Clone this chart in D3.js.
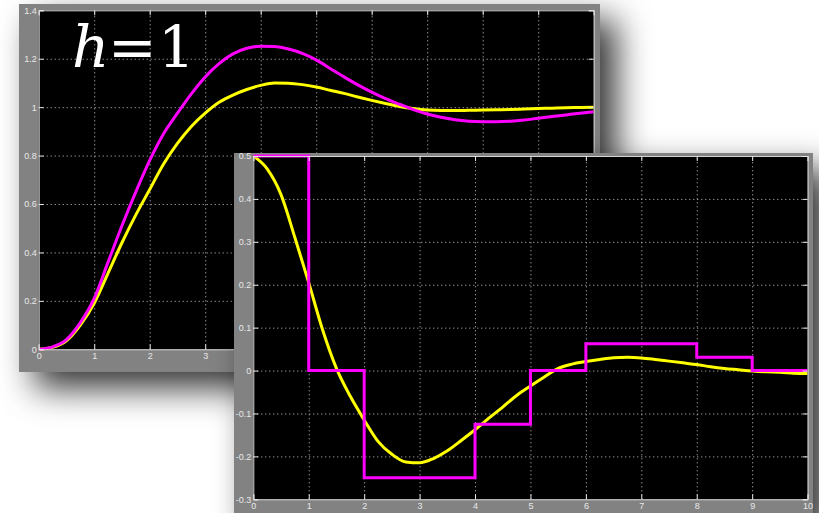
<!DOCTYPE html>
<html>
<head>
<meta charset="utf-8">
<script src="https://cdn.jsdelivr.net/npm/d3@7"></script>
<style>
  html, body { margin: 0; padding: 0; background: #fff; }
  svg { display: block; }
  .lbl text { fill: #e8e8e8; font-family: 'Liberation Sans', Arial, sans-serif; font-size: 9px; }
  .hlabel { font-family: 'DejaVu Serif', 'Liberation Serif', serif; font-size: 58px; fill: #fff; }
</style>
</head>
<body>
<svg id="chart" width="819" height="513"></svg>
<script>
// sample times shared by the continuous curves
const times = [0, 0.25, 0.5, 0.75, 1, 1.25, 1.5, 1.75, 2, 2.25, 2.5, 2.75, 3, 3.25, 3.5, 3.75,
  4, 4.25, 4.5, 4.75, 5, 5.25, 5.5, 5.75, 6, 6.25, 6.5, 6.75, 7, 7.25, 7.5, 7.75,
  8, 8.25, 8.5, 8.75, 9, 9.25, 9.5, 9.75, 10]

// back scope: step responses
const backYellow = [0, 0.008, 0.035, 0.1, 0.19, 0.315, 0.44, 0.555, 0.66, 0.765, 0.85, 0.92, 0.975, 1.02, 1.05, 1.073,
  1.09, 1.1, 1.099, 1.093, 1.083, 1.07, 1.057, 1.042, 1.028, 1.015, 1.003, 0.994, 0.988, 0.986, 0.986, 0.987,
  0.988, 0.989, 0.99, 0.992, 0.994, 0.996, 0.998, 0.999, 1.0]
const backMagenta = [0, 0.01, 0.04, 0.11, 0.21, 0.36, 0.51, 0.65, 0.78, 0.89, 0.975, 1.055, 1.125, 1.18, 1.22, 1.243,
  1.252, 1.25, 1.24, 1.222, 1.195, 1.16, 1.125, 1.092, 1.062, 1.035, 1.012, 0.99, 0.972, 0.958, 0.948, 0.942,
  0.94, 0.94, 0.942, 0.947, 0.954, 0.961, 0.968, 0.975, 0.981]

// front scope: control signal, continuous and sampled (h = 1)
const frontYellow = [0.5, 0.47, 0.41, 0.31, 0.205, 0.095, 0.005, -0.06, -0.115, -0.165, -0.195, -0.213, -0.215, -0.205, -0.187, -0.163,
  -0.138, -0.111, -0.085, -0.058, -0.036, -0.015, 0.005, 0.015, 0.021, 0.026, 0.03, 0.031, 0.0295, 0.026, 0.022, 0.018,
  0.014, 0.009, 0.005, 0.002, -0.001, -0.003, -0.004, -0.006, -0.007]
const sampleTimes = [0, 1, 2, 3, 4, 5, 6, 7, 8, 9, 10]
const frontMagenta = [0.5, 0, -0.25, -0.25, -0.125, 0, 0.0625, 0.0625, 0.03125, 0, 0]

const xTicks = [0, 1, 2, 3, 4, 5, 6, 7, 8, 9, 10]
const backYTicks = [0, 0.2, 0.4, 0.6, 0.8, 1, 1.2, 1.4]
const frontYTicks = [-0.3, -0.2, -0.1, 0, 0.1, 0.2, 0.3, 0.4, 0.5]

const svg = d3.select('#chart')

const defs = svg.append('defs')
const shadow = defs.append('filter').attr('id', 'shadow')
  .attr('x', '-25%').attr('y', '-25%').attr('width', '160%').attr('height', '160%')
shadow.append('feDropShadow')
  .attr('dx', 16).attr('dy', 16).attr('stdDeviation', 17)
  .attr('flood-color', '#000').attr('flood-opacity', 0.8)

function drawScope (id, frame, plot, yDomain, yTicks, series) {
  const g = svg.append('g')

  g.append('rect')
    .attr('x', frame.x).attr('y', frame.y)
    .attr('width', frame.w).attr('height', frame.h)
    .attr('fill', '#828282')
    .attr('filter', 'url(#shadow)')

  const x = d3.scaleLinear().domain([0, 10]).range([plot.x, plot.x + plot.w])
  const y = d3.scaleLinear().domain(yDomain).range([plot.y + plot.h, plot.y])

  g.append('rect')
    .attr('x', plot.x).attr('y', plot.y)
    .attr('width', plot.w).attr('height', plot.h)
    .attr('fill', '#000')

  // dotted grid
  const grid = g.append('g').attr('class', 'grid')
  grid.append('g')
    .attr('transform', 'translate(0,' + (plot.y + plot.h) + ')')
    .call(d3.axisBottom(x).tickValues(xTicks.slice(1, -1)).tickSize(-plot.h).tickFormat(''))
  grid.append('g')
    .attr('transform', 'translate(' + plot.x + ',0)')
    .call(d3.axisLeft(y).tickValues(yTicks.slice(1, -1)).tickSize(-plot.w).tickFormat(''))
  grid.selectAll('.domain').remove()
  grid.selectAll('line')
    .attr('stroke', '#c8c8c8')
    .attr('stroke-width', 1)
    .attr('stroke-dasharray', '1,3')

  // curves
  g.append('clipPath').attr('id', 'clip-' + id)
    .append('rect')
    .attr('x', plot.x).attr('y', plot.y - 2)
    .attr('width', plot.w).attr('height', plot.h + 4)

  series.forEach(function (s) {
    const line = d3.line()
      .x(function (d, i) { return x(s.t[i]) })
      .y(function (d) { return y(d) })
      .curve(s.step ? d3.curveStepAfter : d3.curveMonotoneX)
    g.append('path')
      .attr('clip-path', 'url(#clip-' + id + ')')
      .attr('d', line(s.v))
      .attr('fill', 'none')
      .attr('stroke', s.color)
      .attr('stroke-width', 3)
      .attr('stroke-linejoin', 'miter')
  })

  // inward ticks on all four sides
  const ticks = g.append('g').attr('class', 'ticks')
  ticks.append('g')
    .attr('transform', 'translate(0,' + (plot.y + plot.h) + ')')
    .call(d3.axisBottom(x).tickValues(xTicks).tickSize(-5).tickFormat(''))
  ticks.append('g')
    .attr('transform', 'translate(0,' + plot.y + ')')
    .call(d3.axisTop(x).tickValues(xTicks).tickSize(-5).tickFormat(''))
  ticks.append('g')
    .attr('transform', 'translate(' + plot.x + ',0)')
    .call(d3.axisLeft(y).tickValues(yTicks).tickSize(-5).tickFormat(''))
  ticks.append('g')
    .attr('transform', 'translate(' + (plot.x + plot.w) + ',0)')
    .call(d3.axisRight(y).tickValues(yTicks).tickSize(-5).tickFormat(''))
  ticks.selectAll('.domain').attr('stroke', '#d4d4d4')
  ticks.selectAll('line').attr('stroke', '#e8e8e8')

  // tick labels
  const lx = g.append('g').attr('class', 'lbl')
    .attr('transform', 'translate(0,' + (plot.y + plot.h) + ')')
    .call(d3.axisBottom(x).tickValues(xTicks).tickSize(0).tickPadding(3).tickFormat(function (d) { return String(d) }))
  const ly = g.append('g').attr('class', 'lbl')
    .attr('transform', 'translate(' + plot.x + ',0)')
    .call(d3.axisLeft(y).tickValues(yTicks).tickSize(0).tickPadding(2).tickFormat(function (d) { return String(d) }))
  lx.select('.domain').remove()
  ly.select('.domain').remove()
  g.selectAll('.lbl text').attr('font-size', null).attr('font-family', null)

  return g
}

const back = drawScope('back',
  { x: 19, y: 4, w: 581, h: 368 },
  { x: 38.7, y: 10.3, w: 555, h: 339 },
  [0, 1.4], backYTicks,
  [
    { t: times, v: backYellow, color: '#ffff00' },
    { t: times, v: backMagenta, color: '#ff00ff' }
  ])

const label = back.append('text')
  .attr('class', 'hlabel')
  .attr('y', 67)
label.append('tspan').attr('x', 72).attr('font-style', 'italic').text('h')
label.append('tspan').attr('x', 108).text('=')
label.append('tspan').attr('x', 158).text('1')

drawScope('front',
  { x: 234, y: 153, w: 579, h: 372 },
  { x: 253.3, y: 156, w: 554.3, h: 343.3 },
  [-0.3, 0.5], frontYTicks,
  [
    { t: times, v: frontYellow, color: '#ffff00' },
    { t: sampleTimes, v: frontMagenta, color: '#ff00ff', step: true }
  ])
</script>
</body>
</html>
